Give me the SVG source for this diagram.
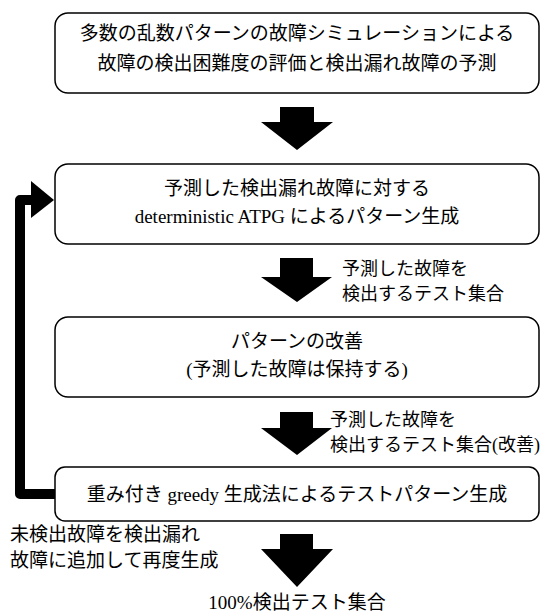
<svg xmlns="http://www.w3.org/2000/svg" width="544" height="613" viewBox="0 0 544 613">
<style>
.box{fill:#fff;stroke:#000;stroke-width:1.5}
text{font-family:"Liberation Serif","Noto Sans CJK JP",serif;font-size:19px;fill:#000}
.c{text-anchor:middle}
.l{font-size:18px}
.arr{fill:#000}
</style>
<rect width="544" height="613" fill="#fff"/>
<g id="node1">
<rect class="box" x="55" y="13" width="484" height="80" rx="13"/>
<text class="c" x="297" y="40">多数の乱数パターンの故障シミュレーションによる</text>
<text class="c" x="297" y="70">故障の検出困難度の評価と検出漏れ故障の予測</text>
</g>
<g id="node2">
<rect class="box" x="55" y="164" width="484" height="80" rx="13"/>
<text class="c" x="297" y="195">予測した検出漏れ故障に対する</text>
<text class="c" x="297" y="223">deterministic ATPG によるパターン生成</text>
</g>
<g id="node3">
<rect class="box" x="55" y="317" width="484" height="80" rx="13"/>
<text class="c" x="297" y="348">パターンの改善</text>
<text class="c" x="297" y="376">(予測した故障は保持する)</text>
</g>
<g id="node4">
<rect class="box" x="55" y="467" width="484" height="54" rx="10"/>
<text class="c" x="297" y="501">重み付き greedy 生成法によるテストパターン生成</text>
</g>
<g id="node5">
<text class="c" x="297" y="609">100%検出テスト集合</text>
</g>
<g id="connectors">
<polygon class="arr" points="280,107 314,107 314,122 333,122 297,150 261,122 280,122"/>
<polygon class="arr" points="280,258 313,258 313,277 332,277 297,302 261,277 280,277"/>
<polygon class="arr" points="280,412 313,412 313,428 332,428 297,455 261,428 280,428"/>
<polygon class="arr" points="280,534 313,534 313,549 333,549 297,587 261,549 280,549"/>
<path d="M55,494 H20 V200 H34" fill="none" stroke="#000" stroke-width="10" stroke-linejoin="round"/>
<polygon class="arr" points="31,181 54,200 31,218"/>
<text class="l" x="342" y="275">予測した故障を</text>
<text class="l" x="342" y="300">検出するテスト集合</text>
<text class="l" x="330" y="426">予測した故障を</text>
<text class="l" x="330" y="451">検出するテスト集合(改善)</text>
<text x="10" y="541">未検出故障を検出漏れ</text>
<text x="10" y="567">故障に追加して再度生成</text>
</g>
</svg>
